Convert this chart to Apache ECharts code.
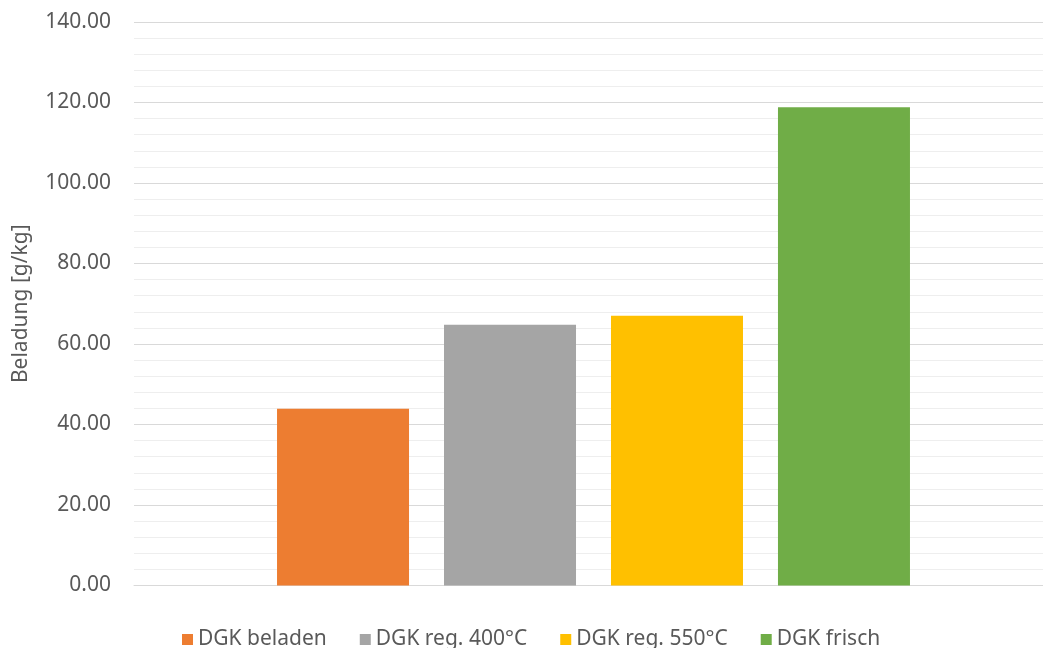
<!DOCTYPE html>
<html>
<head>
<meta charset="utf-8">
<style>
  html, body { margin: 0; padding: 0; background: #fff; }
  #chart { width: 1043px; height: 648px; }
</style>
<script src="https://cdn.jsdelivr.net/npm/echarts@6/dist/echarts.min.js"></script>
</head>
<body>
<div id="chart"></div>
<script>
// Loading of the activated carbon samples, g/kg
const categories = ['Probe'];
const seriesNames = ['DGK beladen', 'DGK reg. 400°C', 'DGK reg. 550°C', 'DGK frisch'];
const seriesValues = [43.9, 64.8, 67.0, 118.8];
const seriesColors = ['#ED7D31', '#A5A5A5', '#FFC000', '#70AD47'];
const yTicks = { min: 0, max: 140, interval: 20 };

const textColor = '#595959';
const fontFamily = '"Noto Sans", "Open Sans", sans-serif';

const chart = echarts.init(document.getElementById('chart'), null, { renderer: 'canvas' });

const series = seriesNames.map((name, i) => ({
  name: name,
  type: 'bar',
  data: [seriesValues[i]],
  barWidth: 132,
  barGap: '26.5%',
  itemStyle: { color: seriesColors[i] },
  animation: false
}));

chart.setOption({
  backgroundColor: '#ffffff',
  textStyle: { fontFamily: fontFamily },
  animation: false,
  // plot band extends past the right edge so the bar group sits where it should
  grid: { left: 134, right: -10, top: 22, bottom: 62.5, containLabel: false, outerBoundsMode: 'none' },
  legend: {
    data: seriesNames,
    left: 177,
    top: 624,
    icon: 'rect',
    itemWidth: 11,
    itemHeight: 11,
    itemGap: 33,
    textStyle: { color: textColor, fontSize: 21, fontFamily: fontFamily }
  },
  xAxis: {
    type: 'category',
    data: categories,
    axisLine: { show: true, lineStyle: { color: '#d9d9d9', width: 1 } },
    axisTick: { show: false },
    axisLabel: { show: false },
    splitLine: { show: false }
  },
  yAxis: {
    type: 'value',
    min: yTicks.min,
    max: yTicks.max,
    interval: yTicks.interval,
    name: 'Beladung [g/kg]',
    nameLocation: 'middle',
    nameGap: 102,
    nameRotate: 90,
    nameTextStyle: { color: textColor, fontSize: 21, fontFamily: fontFamily },
    axisLine: { show: false },
    axisTick: { show: false },
    axisLabel: {
      color: textColor,
      fontSize: 21,
      margin: 23,
      fontFamily: fontFamily,
      formatter: v => v.toFixed(2)
    },
    splitLine: { show: true, lineStyle: { color: '#d9d9d9', width: 1 } },
    minorTick: { show: false, splitNumber: 5 },
    minorSplitLine: { show: true, lineStyle: { color: '#eeeeee', width: 1 } }
  },
  series: series
});
</script>
</body>
</html>
